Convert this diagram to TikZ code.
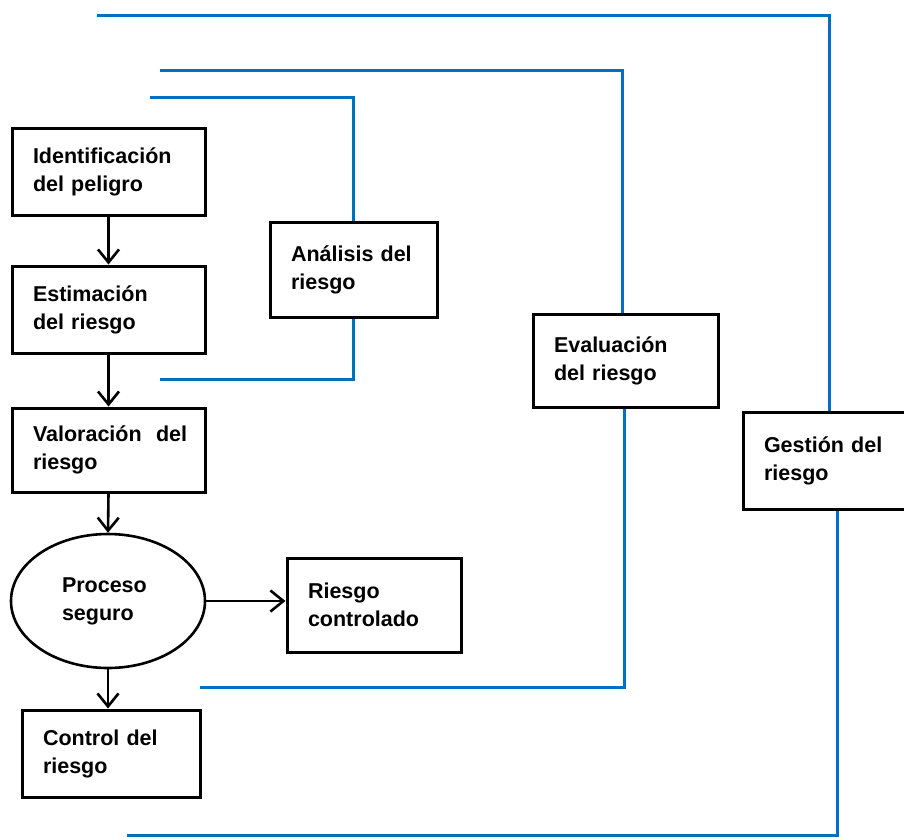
\documentclass[tikz,border=0pt]{standalone}
\usepackage{fontspec}
\setmainfont{Liberation Sans}
\usetikzlibrary{arrows.meta,shapes.geometric}
\definecolor{azulLinea}{RGB}{0,112,192}

\begin{document}
\begin{tikzpicture}[x=1pt,y=-1pt,
  every node/.style={font=\fontsize{21.5}{28}\selectfont\bfseries},
  caja/.style 2 args={draw,line width=3pt,inner xsep=21pt,inner ysep=0pt,align=left,text width=#1,minimum height=#2},
  proc/.style={draw,ellipse,line width=2.6pt,inner sep=0pt,align=left,text width=92pt,minimum width=194pt,minimum height=134pt},
  flecha/.style={->,line width=2.6pt,>={Straight Barb[length=13pt,width=21pt]}},
  azul/.style={azulLinea,line width=3pt}]

\useasboundingbox (0,0) rectangle (904,839);
\clip (0,0) rectangle (904,839);

%% left column
\node[caja={151pt}{87pt}] (ident) at (108.5,171.5) {Identificación\\del peligro};
\node[caja={151pt}{87pt}] (estim) at (108.5,309.5) {Estimación\\del riesgo};
\node[caja={151pt}{84pt}] (valor) at (108.5,450) {Valoración~ del\\riesgo};
\node[proc] (proceso) at (108,601) {Proceso\\seguro\\[8pt]};
\node[caja={132pt}{94pt}] (riesgo) at (374,605) {Riesgo\\controlado};
\node[caja={136pt}{87pt}] (control) at (111,753.5) {Control del\\riesgo};

%% the stages
\node[caja={125pt}{95pt}] (analisis) at (353.5,269.5) {Análisis del\\riesgo};
\node[caja={143pt}{93pt}] (evalua) at (625.5,360.5) {Evaluación\\del riesgo\\[-6pt]};
\node[caja={142pt}{97pt}] (gestion) at (835,460.5) {Gestión del\\riesgo\\[-6pt]};

\foreach \de/\a in {ident/estim, estim/valor, valor/proceso}
  \draw[flecha] (\de.south) -- (\a.north);
\draw[flecha] (proceso.east) -- (proceso.east -| riesgo.west);
\draw[flecha] (proceso.south) -- (proceso.south |- control.north);

%% blue brackets
\coordinate (aIni) at (150,97);  \coordinate (aFin) at (160,379);
\coordinate (eIni) at (160,70);  \coordinate (eFin) at (200,687);
\coordinate (gIni) at (97,15);   \coordinate (gFin) at (127,835);

\draw[azul] (aIni) -| (analisis.north);
\draw[azul] (analisis.south) |- (aFin);
\draw[azul] (eIni) -| ([xshift=-3pt]evalua.north);
\draw[azul] ([xshift=-1pt]evalua.south) |- (eFin);
\draw[azul] (gIni) -| ([xshift=-6pt]gestion.north);
\draw[azul] ([xshift=2pt]gestion.south) |- (gFin);
\end{tikzpicture}
\end{document}
